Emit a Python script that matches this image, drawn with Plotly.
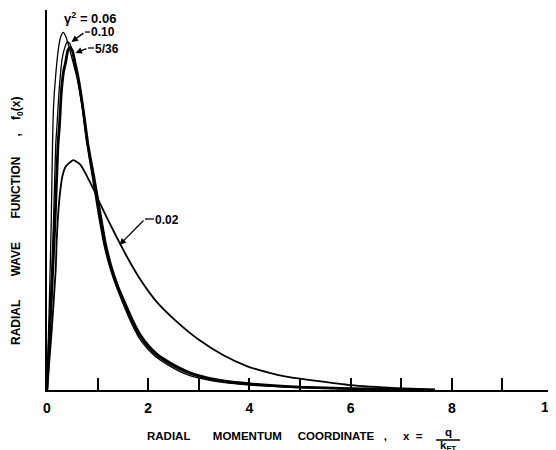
import plotly.graph_objects as go

# ---- data (y in arbitrary units, axis top = 1.0) ----
x_g006 = [0, 0.05, 0.085, 0.109, 0.128, 0.172, 0.237, 0.277, 0.322, 0.375, 0.435, 0.514, 0.593,
          0.692, 0.771, 0.889, 1.008, 1.126, 1.245, 1.364, 1.482, 1.640, 1.798, 1.970, 2.154,
          2.366, 2.589, 2.826, 3.123, 3.478, 4.012, 4.407, 5.0, 5.988, 6.976, 7.668]
y_g006 = [0, 0.25, 0.45, 0.645, 0.742, 0.829, 0.908, 0.932, 0.941, 0.929, 0.903, 0.863, 0.821,
          0.747, 0.663, 0.566, 0.468, 0.382, 0.321, 0.274, 0.234, 0.184, 0.142, 0.111, 0.087,
          0.068, 0.051, 0.038, 0.028, 0.020, 0.013, 0.010, 0.006, 0.003, 0.001, 0]

x_g010 = [0, 0.075, 0.13, 0.172, 0.198, 0.237, 0.302, 0.356, 0.401, 0.455, 0.514, 0.593, 0.692,
          0.791, 0.909, 1.028, 1.136, 1.255, 1.383, 1.502, 1.660, 1.818, 1.986, 2.174, 2.381,
          2.609, 2.846, 3.142, 3.498, 4.012, 4.407, 5.0, 5.988, 6.976, 7.668]
y_g010 = [0, 0.25, 0.45, 0.645, 0.697, 0.784, 0.874, 0.903, 0.917, 0.911, 0.882, 0.832, 0.750,
          0.658, 0.561, 0.466, 0.384, 0.321, 0.271, 0.234, 0.184, 0.143, 0.113, 0.089, 0.071,
          0.054, 0.041, 0.030, 0.022, 0.014, 0.011, 0.007, 0.003, 0.0013, 0]

x_g536 = [0, 0.09, 0.16, 0.217, 0.247, 0.283, 0.326, 0.370, 0.415, 0.455, 0.504, 0.553, 0.613,
          0.711, 0.810, 0.929, 1.047, 1.156, 1.275, 1.403, 1.522, 1.680, 1.838, 2.006, 2.194,
          2.401, 2.628, 2.866, 3.162, 3.518, 4.012, 4.407, 5.0, 5.988, 6.976, 7.668]
y_g536 = [0, 0.25, 0.45, 0.645, 0.697, 0.784, 0.837, 0.864, 0.895, 0.901, 0.892, 0.861, 0.824,
          0.742, 0.645, 0.558, 0.466, 0.384, 0.321, 0.271, 0.234, 0.186, 0.146, 0.116, 0.092,
          0.074, 0.057, 0.043, 0.032, 0.023, 0.016, 0.012, 0.0074, 0.0037, 0.0016, 0]

x_g002 = [0, 0.09, 0.172, 0.192, 0.217, 0.257, 0.302, 0.370, 0.520, 0.666, 0.796, 0.929, 1.047,
          1.245, 1.443, 1.575, 1.838, 2.168, 2.563, 3.024, 3.478, 3.947, 4.4, 4.7, 5.33,
          6.0, 7.0, 7.43, 7.668]
y_g002 = [0, 0.15, 0.316, 0.395, 0.456, 0.518, 0.561, 0.588, 0.605, 0.592, 0.561, 0.526, 0.491,
          0.437, 0.385, 0.352, 0.292, 0.232, 0.180, 0.130, 0.092, 0.063, 0.045, 0.036, 0.024,
          0.013, 0.0045, 0.002, 0]

x_tickvals = [0, 1, 2, 3, 4, 5, 6, 7, 8, 9, 10]
x_ticktext = ["0", "", "2", "", "4", "", "6", "", "8", "", ""]
last_tick_label = "10"

FONT = "Liberation Sans"
OFF = 8  # page body margin in the browser

fig = go.Figure()
series = [
    (x_g002, y_g002, 1.8),
    (x_g006, y_g006, 1.3),
    (x_g010, y_g010, 1.3),
    (x_g536, y_g536, 2.8),
]
for xs, ys, w in series:
    fig.add_trace(go.Scatter(x=xs, y=ys, mode="lines",
                             line=dict(color="black", width=w, shape="spline", smoothing=0.5),
                             hoverinfo="skip"))

tickfont = dict(family=FONT, size=14, color="black", weight="bold")
fig.update_layout(
    width=556 - OFF, height=450 - OFF,
    margin=dict(l=47 - OFF, r=3, t=10 - OFF, b=60, pad=0),
    paper_bgcolor="white", plot_bgcolor="white",
    showlegend=False,
    xaxis=dict(range=[0, 10], showline=True, linecolor="black", linewidth=2,
               ticks="inside", ticklen=12, tickwidth=1.5, tickcolor="black",
               tickvals=x_tickvals, ticktext=x_ticktext, ticklabelstandoff=4,
               ticklabeloverflow="allow",
               showgrid=False, zeroline=False, automargin=False,
               tickfont=tickfont),
    yaxis=dict(range=[0, 1], showline=True, linecolor="black", linewidth=2,
               ticks="", showticklabels=False, showgrid=False, zeroline=False,
               automargin=False),
)

nb = "\u00a0"
xfont = dict(family=FONT, size=11.5, color="black", weight="bold")
yfont = dict(family=FONT, size=12, color="black", weight="bold")

# helpers: page pixel -> paper coords (plot area spans page x 47..553, y 10..390)
def px(p):
    return (p - 47) / 506

def py(p):
    return (390 - p) / 380

# last tick label (partly cut by the right edge, as in the original)
fig.add_annotation(xref="paper", yref="paper", x=px(549), y=py(407),
                   xanchor="center", yanchor="middle", showarrow=False, font=tickfont,
                   text=last_tick_label)

# x-axis title with fraction
fig.add_annotation(xref="paper", yref="paper", x=px(425), y=py(436),
                   xanchor="right", yanchor="middle", showarrow=False, font=xfont,
                   text=f"RADIAL{nb*7}MOMENTUM{nb*5}COORDINATE{nb*3},{nb*5}x{nb*2}=")
fig.add_annotation(xref="paper", yref="paper", x=px(448), y=py(432),
                   xanchor="center", yanchor="middle", showarrow=False, font=xfont, text="q")
fig.add_annotation(xref="paper", yref="paper", x=px(448), y=py(446),
                   xanchor="center", yanchor="middle", showarrow=False, font=xfont,
                   text="k<sub>FT</sub>")
fig.add_shape(type="line", xref="paper", yref="paper",
              x0=px(436), x1=px(460), y0=py(440), y1=py(440),
              line=dict(color="black", width=1.5))

# y-axis title
fig.add_annotation(xref="paper", yref="paper", x=px(17), y=py(221),
                   xanchor="center", yanchor="middle", showarrow=False, textangle=-90,
                   font=yfont,
                   text=f"RADIAL{nb*7}WAVE{nb*7}FUNCTION{nb*6},{nb*4}f<sub>0</sub>(x)")

# curve labels
lfont = dict(family=FONT, size=12, color="black", weight="bold")
fig.add_annotation(x=0.316, y=0.978, xanchor="left", yanchor="middle", showarrow=False,
                   font=dict(family=FONT, size=13, color="black", weight="bold"),
                   text="γ<sup>2</sup> = 0.06", borderpad=0)

labels = [
    # text, tip(x,y), kink(x,y), dash end x, text y
    ("0.10", (0.484, 0.916), (0.751, 0.942), 0.850, 0.941),
    ("5/36", (0.563, 0.887), (0.810, 0.900), 0.929, 0.898),
    ("0.02", (1.433, 0.382), (1.937, 0.450), 2.115, 0.447),
]
for txt, tip, kink, dend, ty in labels:
    fig.add_annotation(x=tip[0], y=tip[1], ax=kink[0], ay=kink[1], axref="x", ayref="y",
                       text="", showarrow=True, arrowhead=2, arrowsize=1, arrowwidth=1.3,
                       arrowcolor="black", standoff=0, startstandoff=0)
    fig.add_shape(type="line", x0=kink[0], y0=kink[1], x1=dend, y1=kink[1],
                  line=dict(color="black", width=1.3))
    fig.add_annotation(x=dend, y=ty, xanchor="left", yanchor="middle", showarrow=False,
                       font=lfont, text=txt, borderpad=0)

fig.write_html("out.html")
